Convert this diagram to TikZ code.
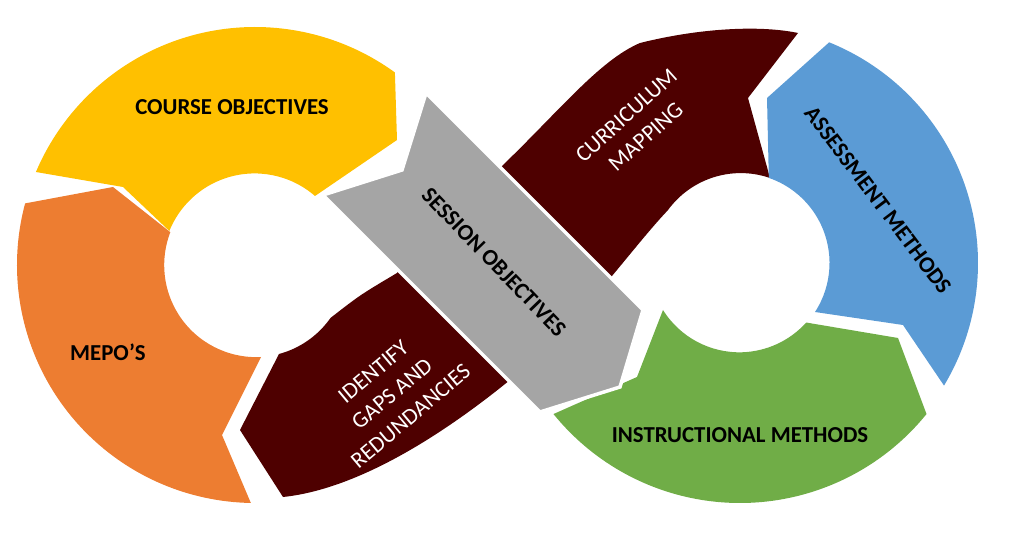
\documentclass[tikz,border=0pt]{standalone}
\usepackage{fontspec}
\setmainfont{Carlito}
\definecolor{cyellow}{HTML}{FFC000}
\definecolor{corange}{HTML}{ED7D31}
\definecolor{cmaroon}{HTML}{4E0000}
\definecolor{cblue}{HTML}{5B9BD5}
\definecolor{cgreen}{HTML}{70AD47}
\definecolor{cgray}{HTML}{A5A5A5}
\tikzset{
    darklabel/.style={font=\bfseries\fontsize{13}{16}\selectfont, text=black, align=center},
    lightlabel/.style={font=\fontsize{13}{16.5}\selectfont, text=white, align=center, inner sep=0pt},
}

\begin{document}
\begin{tikzpicture}[x=0.02cm, y=-0.02cm]
    \useasboundingbox (0,0) rectangle (1024,540);

    % left loop
    \fill[cyellow] (255,265) ++(-157:238) arc[start angle=-157, end angle=-54, radius=238]
        -- (397,140) -- (315,196) arc[start angle=-49, end angle=-158, radius=92]
        -- (123,187) -- cycle;
    \fill[corange] (255,265) ++(195:238) arc[start angle=195, end angle=91, radius=238]
        -- (222,435) -- (261,357) arc[start angle=87, end angle=201, radius=92]
        -- (113,187) -- cycle;

    % band
    \fill[cmaroon] (283,497) -- (240,430) -- (279,354)
        arc[start angle=75, end angle=35, radius=92]
        .. controls (360,295) .. (397,273) -- (503,165)
        .. controls (560,110) and (600,60) .. (640,43)
        .. controls (700,28) and (760,25) .. (798,33)
        -- (748,98) -- (770,178) arc[start angle=-71, end angle=-144, radius=90]
        .. controls (630,250) and (575,330) .. (510,380)
        .. controls (430,445) and (350,490) .. (283,497) -- cycle;

    % right loop
    \fill[cblue] (740,263) ++(-68:238) arc[start angle=-68, end angle=31, radius=238]
        -- (903,325) -- (815,312) arc[start angle=33, end angle=-71, radius=90]
        -- (767,98) -- cycle;
    \fill[cgreen] (740,263) ++(39:240) arc[start angle=39, end angle=141, radius=240]
        -- (637,377) -- (663,310) arc[start angle=148, end angle=42, radius=90]
        -- (898,338) -- cycle;

    % arrow
    \filldraw[cgray, draw=white, line width=2pt] (323,195) -- (402,170) -- (426,93)
        -- (643,310) -- (620,387) -- (540,412) -- cycle;

    \node[darklabel] (course) at (232,107) {COURSE OBJECTIVES};
    \node[darklabel] (mepo) at (108,352) {MEPO’S};
    \node[darklabel, rotate=-46] (session) at (494,262) {SESSION OBJECTIVES};
    \node[lightlabel, rotate=42] (mapping) at (636,126) {CURRICULUM\\MAPPING};
    \node[lightlabel, rotate=40] (gaps) at (392,394) {IDENTIFY\\GAPS AND\\REDUNDANCIES};
    \node[darklabel, rotate=-53] (assess) at (878,200) {ASSESSMENT METHODS};
    \node[darklabel] (instr) at (740,435) {INSTRUCTIONAL METHODS};
\end{tikzpicture}
\end{document}
